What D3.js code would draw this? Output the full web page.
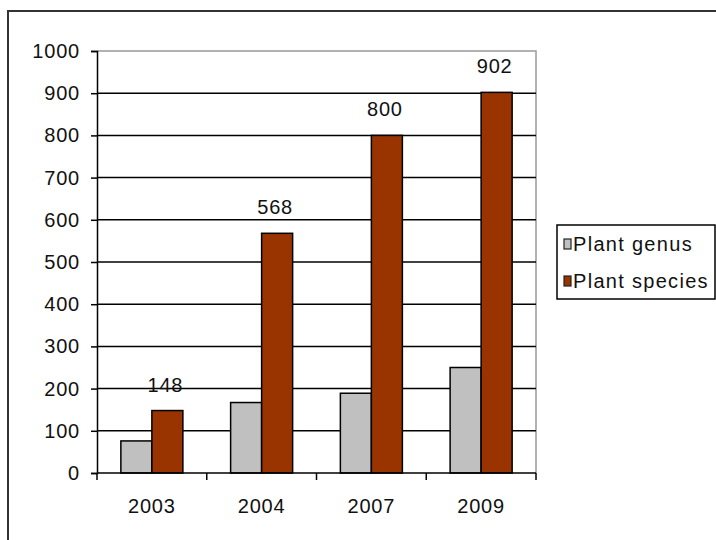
<!DOCTYPE html>
<html>
<head>
<meta charset="utf-8">
<script src="https://cdn.jsdelivr.net/npm/d3@7"></script>
<style>
  html, body { margin: 0; padding: 0; background: #fff; }
  svg { display: block; }
  text { font-family: "Liberation Sans", Arial, sans-serif; fill: #111; }
</style>
</head>
<body>
<svg id="chart" width="716" height="540"></svg>
<script>
// Survey results by year
const years = ["2003", "2004", "2007", "2009"];
const seriesNames = ["Plant genus", "Plant species"];
const genusCounts = [76, 167, 189, 250];
const speciesCounts = [148, 568, 800, 902];
const yTicks = [0, 100, 200, 300, 400, 500, 600, 700, 800, 900, 1000];
const colors = ["#c0c0c0", "#993300"];

const svg = d3.select("#chart");

// outer chart frame (right and bottom edges fall outside the view)
svg.append("rect")
  .attr("x", 8).attr("y", 11)
  .attr("width", 740).attr("height", 560)
  .attr("fill", "none").attr("stroke", "#333").attr("stroke-width", 2);

const plot = { left: 97, right: 536, top: 51, bottom: 473 };

const x = d3.scaleBand()
  .domain(years)
  .range([plot.left, plot.right])
  .paddingInner(0.435)
  .paddingOuter(0.2175);

const xSub = d3.scaleBand()
  .domain(seriesNames)
  .range([0, x.bandwidth()]);

const y = d3.scaleLinear()
  .domain([0, 1000])
  .range([plot.bottom, plot.top]);

// plot area border (light grey on top and right)
svg.append("path")
  .attr("d", `M${plot.left},${plot.top}H${plot.right}V${plot.bottom}`)
  .attr("fill", "none").attr("stroke", "#999").attr("stroke-width", 1.5);

// horizontal gridlines
svg.append("g")
  .selectAll("line")
  .data(yTicks.filter(d => d > 0 && d < 1000))
  .join("line")
  .attr("x1", plot.left).attr("x2", plot.right)
  .attr("y1", d => y(d)).attr("y2", d => y(d))
  .attr("stroke", "#000").attr("stroke-width", 1.5);

// bars
const rows = years.map((yr, i) => ({ year: yr, values: [genusCounts[i], speciesCounts[i]] }));

const groups = svg.append("g")
  .selectAll("g")
  .data(rows)
  .join("g")
  .attr("transform", d => `translate(${x(d.year)},0)`);

groups.selectAll("rect")
  .data(d => d.values.map((v, j) => ({ name: seriesNames[j], value: v, j })))
  .join("rect")
  .attr("x", d => xSub(d.name))
  .attr("y", d => y(d.value))
  .attr("width", xSub.bandwidth())
  .attr("height", d => y(0) - y(d.value))
  .attr("fill", d => colors[d.j])
  .attr("stroke", "#000").attr("stroke-width", 1.5);

// value labels above the species bars
groups.append("text")
  .attr("x", d => xSub("Plant species") + xSub.bandwidth() / 2 - 2)
  .attr("y", d => y(d.values[1]) - 19)
  .attr("text-anchor", "middle")
  .attr("font-size", 20)
  .attr("letter-spacing", 0.8)
  .text(d => d.values[1]);

// y axis
const yAxis = d3.axisLeft(y)
  .tickValues(yTicks)
  .tickSize(6)
  .tickPadding(11)
  .tickFormat(d3.format("d"));

const gy = svg.append("g")
  .attr("transform", `translate(${plot.left},0)`)
  .call(yAxis);
gy.select(".domain").attr("stroke", "#000").attr("stroke-width", 1.5);
gy.selectAll(".tick line").attr("stroke", "#000").attr("stroke-width", 1.5);
gy.selectAll(".tick text").attr("font-size", 20).attr("fill", "#111")
  .attr("letter-spacing", 0.8)
  .attr("font-family", "Liberation Sans, Arial, sans-serif");

// x axis with ticks on category boundaries
const gx = svg.append("g")
  .attr("transform", `translate(0,${plot.bottom})`);
gx.append("line")
  .attr("x1", plot.left).attr("x2", plot.right)
  .attr("stroke", "#000").attr("stroke-width", 1.5);
const bounds = years.map(d => x(d) - x.step() * x.paddingInner() / 2).concat([plot.right]);
bounds[0] = plot.left;
gx.selectAll("line.tick")
  .data(bounds)
  .join("line")
  .attr("class", "tick")
  .attr("x1", d => d).attr("x2", d => d)
  .attr("y1", 0).attr("y2", 7)
  .attr("stroke", "#000").attr("stroke-width", 1.5);
gx.selectAll("text")
  .data(years)
  .join("text")
  .attr("x", d => x(d) + x.bandwidth() / 2)
  .attr("y", 40)
  .attr("text-anchor", "middle")
  .attr("font-size", 20)
  .attr("letter-spacing", 0.8)
  .text(d => d);

// legend
const legend = svg.append("g");
legend.append("rect")
  .attr("x", 557).attr("y", 225)
  .attr("width", 158).attr("height", 74)
  .attr("fill", "#fff").attr("stroke", "#000").attr("stroke-width", 1.5);
const items = legend.selectAll("g.item")
  .data(seriesNames)
  .join("g")
  .attr("class", "item")
  .attr("transform", (d, i) => `translate(564,${239 + i * 37})`);
items.append("rect")
  .attr("width", 7).attr("height", 10)
  .attr("fill", (d, i) => colors[i])
  .attr("stroke", "#222").attr("stroke-width", 1.2);
items.append("text")
  .attr("x", 9).attr("y", 12)
  .attr("font-size", 20)
  .attr("letter-spacing", 1.3)
  .text(d => d);
</script>
</body>
</html>
